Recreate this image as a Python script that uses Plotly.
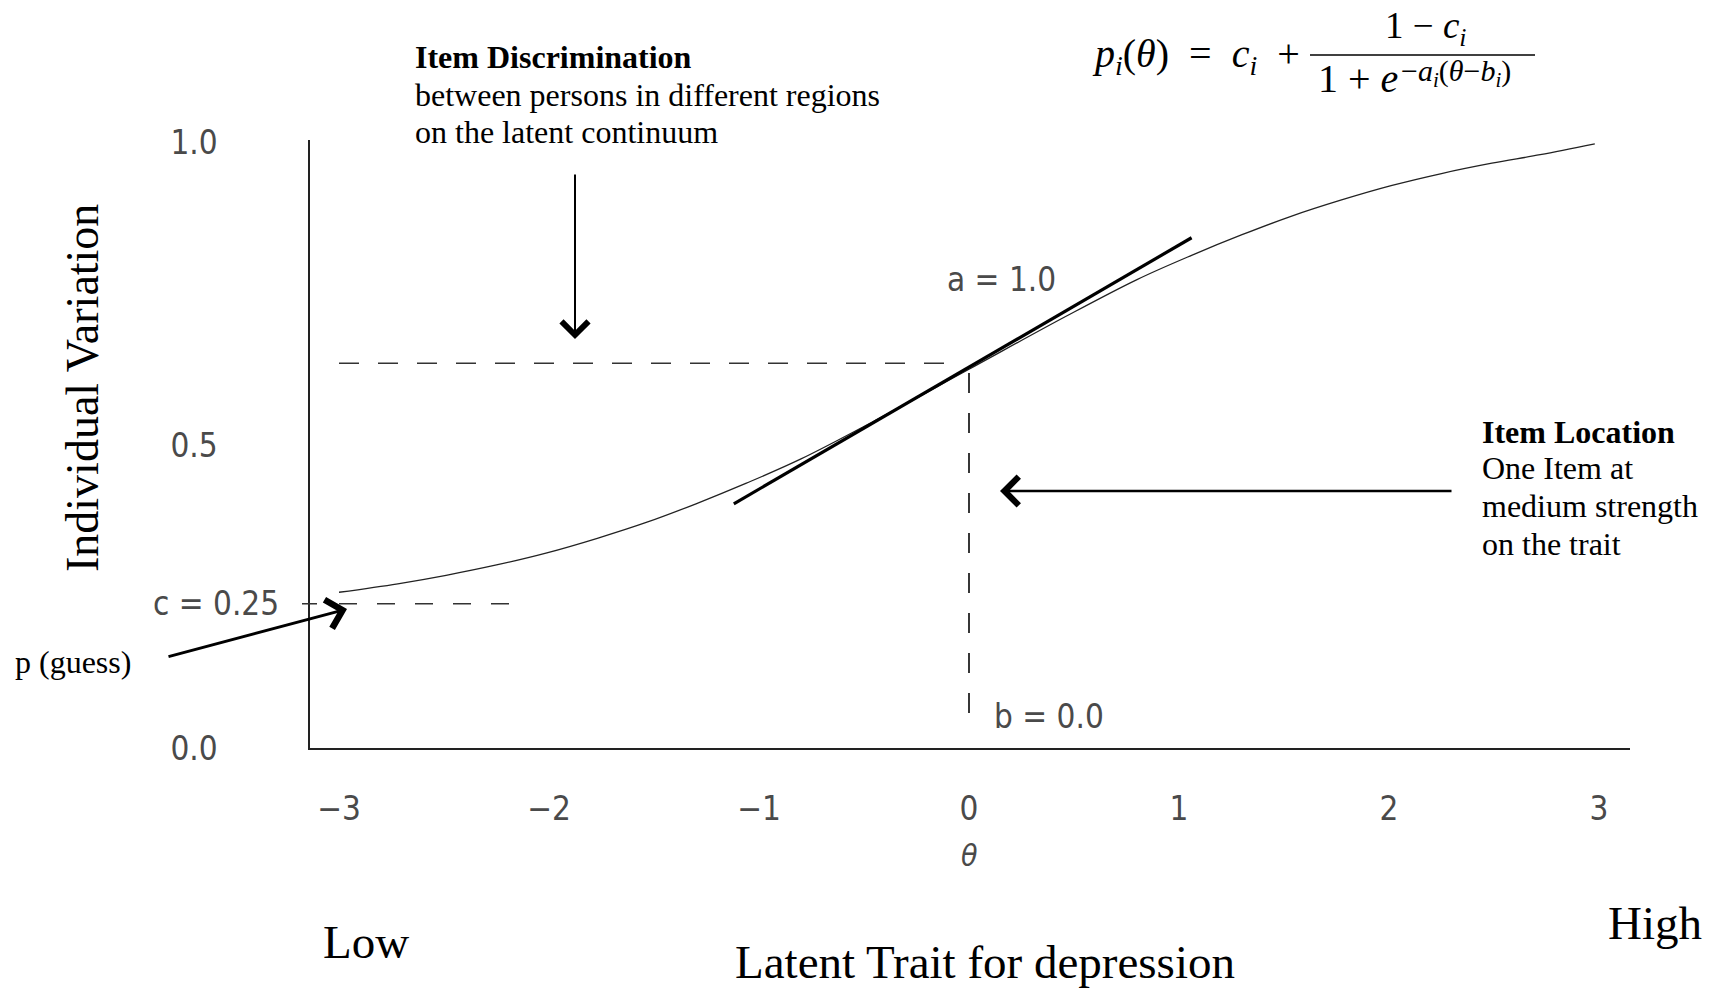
import plotly.graph_objects as go

# ---------------- data ----------------
theta = [-3.0, -2.72, -2.49, -2.25, -2.01, -1.77, -1.53, -1.3, -1.06, -0.8, -0.46,
         0.0, 0.46, 0.8, 1.06, 1.3, 1.53, 1.77, 2.01, 2.25, 2.49, 2.72, 2.98]
prob = [0.257, 0.271, 0.285, 0.302, 0.322, 0.346, 0.373, 0.403, 0.437, 0.477, 0.538,
        0.625, 0.712, 0.773, 0.813, 0.847, 0.877, 0.904, 0.928, 0.948, 0.965, 0.979, 0.997]

tangent_theta = [-1.12, 1.06]
tangent_prob = [0.403, 0.842]

c_guess = 0.238          # lower asymptote guide
p_at_b = 0.635           # horizontal guide at item location
b_location = 0.0         # vertical guide

horiz_theta = [-3.0, -0.03]
c_line_theta = [-3.0, -2.19]
vert_prob = [0.619, 0.035]

x_ticks = [-3, -2, -1, 0, 1, 2, 3]
y_ticks = [0.0, 0.5, 1.0]
y_tick_text = ["0.0", "0.5", "1.0"]

# ---------------- layout helpers (pixel -> paper) ----------------
W, H = 1713, 991
L, R, T, B = 310, 1630, 140, 748


def px(xp):
    return (xp - L) / (R - L)


def py(yp):
    return (B - yp) / (B - T)


SERIF = "Liberation Serif, Times New Roman, serif"
THIN = "Liberation Sans Narrow, DejaVu Sans Condensed, Arial Narrow, sans-serif"
GRAY = "#4a4a4a"

fig = go.Figure()

# item characteristic curve
fig.add_trace(go.Scatter(x=theta, y=prob, mode="lines", line_shape="spline",
                         line=dict(color="#222", width=1.3, smoothing=1.0), hoverinfo="skip"))
# tangent (discrimination)
fig.add_trace(go.Scatter(x=tangent_theta, y=tangent_prob, mode="lines",
                         line=dict(color="black", width=3.2), hoverinfo="skip"))
# guides
fig.add_trace(go.Scatter(x=horiz_theta, y=[p_at_b, p_at_b], mode="lines",
                         line=dict(color="#333", width=1.6, dash="20px,19px"), hoverinfo="skip"))
fig.add_trace(go.Scatter(x=[b_location, b_location], y=vert_prob, mode="lines",
                         line=dict(color="#222", width=1.8, dash="20px,20px"), hoverinfo="skip"))
fig.add_trace(go.Scatter(x=c_line_theta, y=[c_guess, c_guess], mode="lines",
                         line=dict(color="#333", width=1.6, dash="18px,20px"), hoverinfo="skip"))

shapes = [
    # small tick at c level crossing the axis
    dict(type="line", xref="paper", yref="y", x0=px(302), x1=px(317),
         y0=c_guess, y1=c_guess, line=dict(color="#333", width=1.5)),
    # fraction bar of the formula
    dict(type="line", xref="paper", yref="paper", x0=px(1310), x1=px(1535),
         y0=py(55), y1=py(55), line=dict(color="black", width=1.6)),
]

ann = []


def text(x, y, s, size, font=SERIF, color="black", xanchor="left", angle=0):
    ann.append(dict(x=px(x), y=py(y), xref="paper", yref="paper", text=s,
                    showarrow=False, xanchor=xanchor, yanchor="middle",
                    textangle=angle, font=dict(family=font, size=size, color=color)))


def arrow(x_head, y_head, x_tail, y_tail, width, size, head=4):
    ann.append(dict(x=px(x_head), y=py(y_head), xref="paper", yref="paper", text="",
                    showarrow=True, ax=x_tail - x_head, ay=y_tail - y_head,
                    axref="pixel", ayref="pixel", arrowhead=head, arrowsize=size,
                    arrowwidth=width, arrowcolor="black", standoff=0))


# Item discrimination block
text(413, 57, "<b>Item Discrimination</b>", 32)
text(413, 95, "between persons in different regions", 32)
text(413, 132, "on the latent continuum", 32)
arrow(575, 339, 575, 173, 2, 2.6)

# Item location block
text(1480, 432, "<b>Item Location</b>", 32)
text(1480, 468, "One Item at", 32)
text(1480, 506, "medium strength", 32)
text(1480, 544, "on the trait", 32)
arrow(1000, 491, 1453, 491, 2.4, 2.3)

# guess
text(13, 662, "p (guess)", 32)
arrow(347, 609, 167, 657, 3, 1.9)

# parameter labels
text(151, 603, "c = 0.25", 33, font=THIN, color=GRAY)
text(945, 279, "a = 1.0", 33, font=THIN, color=GRAY)
text(992, 716, "b = 0.0", 33, font=THIN, color=GRAY)
text(969, 855, "<i>θ</i>", 30, font=THIN, color=GRAY, xanchor="center")

# outer labels
text(82, 388, "Individual Variation", 46, xanchor="center", angle=-90)
text(366, 942, "Low", 47, xanchor="center")
text(1655, 923, "High", 47, xanchor="center")
text(985, 962, "Latent Trait for depression", 47, xanchor="center")

# formula
text(1302, 56, "<i>p<sub>i</sub></i>(<i>θ</i>)\u2002=\u2002<i>c<sub>i</sub></i>\u2002+", 40, xanchor="right")
text(1426, 28, "1 − <i>c<sub>i</sub></i>", 37, xanchor="center")
text(1316, 78, "1 + <i>e</i>", 40)
text(1399, 73, "−<i>a<sub>i</sub></i>(<i>θ</i>−<i>b<sub>i</sub></i>)", 30)

fig.update_layout(
    width=W, height=H,
    margin=dict(l=L, r=W - R, t=T, b=H - B, pad=0),
    paper_bgcolor="white", plot_bgcolor="white",
    showlegend=False,
    shapes=shapes, annotations=ann,
    xaxis=dict(range=[(L - 969) / 210, (R - 969) / 210], showgrid=False, zeroline=False,
               showline=True, linecolor="#222", linewidth=2, ticks="",
               tickvals=x_ticks, ticktext=[("−" if v < 0 else "") + str(abs(v)) for v in x_ticks],
               tickfont=dict(family=THIN, size=33, color=GRAY), ticklabelstandoff=30),
    yaxis=dict(range=[0, (B - T) / 606], showgrid=False, zeroline=False,
               showline=True, linecolor="#222", linewidth=1.6, ticks="",
               tickvals=y_ticks, ticktext=y_tick_text,
               tickfont=dict(family=THIN, size=33, color=GRAY), ticklabelstandoff=84),
)

fig.write_html("out.html")
